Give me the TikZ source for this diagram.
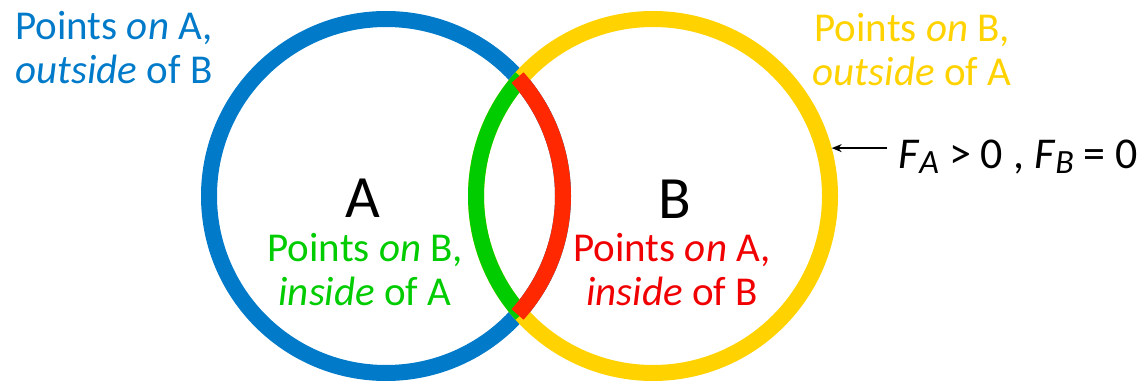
\documentclass[tikz,border=0pt]{standalone}
\usepackage{fontspec}
\setmainfont{Carlito}
\usetikzlibrary{calc,arrows.meta}
\definecolor{vennBlue}{RGB}{0,122,201}
\definecolor{vennYellow}{RGB}{255,210,0}
\definecolor{vennGreen}{RGB}{0,204,0}
\definecolor{vennRed}{RGB}{255,40,0}
\definecolor{vennRedText}{RGB}{240,0,0}
\newcommand{\fsub}[1]{\raisebox{-5pt}{\fontsize{34}{34}\selectfont\itshape #1}}
\tikzset{
 venn ring/.style={line width=16pt},
 venn label/.style={align=center,font=\fontsize{41}{44}\selectfont,inner sep=0pt},
 venn name/.style={font=\fontsize{60}{60}\selectfont,inner sep=0pt},
 venn formula/.style={font=\fontsize{44}{44}\selectfont,inner sep=0pt},
 venn pointer/.style={line width=1.5pt,-{Stealth[length=10pt,width=8pt]}}
}
\begin{document}
\begin{tikzpicture}[x=1pt,y=-1pt]
 \useasboundingbox (0,0) rectangle (1139,382);
 % the two sets
 \coordinate (cA) at (386,196);
 \coordinate (cB) at (653,196);
 \draw[venn ring,vennBlue] (cA) circle[radius=177];
 \draw[venn ring,vennYellow] (cB) circle[radius=177];
 % parts of each ring inside the other set
 \draw[venn ring,vennGreen] ($(cB)+(138:177)$) arc[start angle=138,end angle=222,radius=177];
 \draw[venn ring,vennRed] ($(cA)+(-42:177)$) arc[start angle=-42,end angle=42,radius=177];
 \node[venn name] (nameA) at (363,198) {A};
 \node[venn name] (nameB) at (675,199) {B};
 \node[venn label,text=vennBlue] (onAout) at (114,48) {Points \textit{on} A,\\\textit{outside} of B};
 \node[venn label,text=vennYellow] (onBout) at (912,50) {Points \textit{on} B,\\\textit{outside} of A};
 \node[venn label,text=vennGreen] (onBin) at (365,270) {Points \textit{on} B,\\\textit{inside} of A};
 \node[venn label,text=vennRedText] (onAin) at (672,270) {Points \textit{on} A,\\\textit{inside} of B};
 % forces on the outer part of B
 \node[venn formula,anchor=base west] (force) at (898,168)
   {\textit{F}\fsub{A} > 0 , \textit{F}\fsub{B} = 0};
 \coordinate (tipB) at ($(cB)+(-15:185)$);
 \draw[venn pointer,shorten <=11pt] (force.west |- tipB) -- (tipB);
\end{tikzpicture}
\end{document}
